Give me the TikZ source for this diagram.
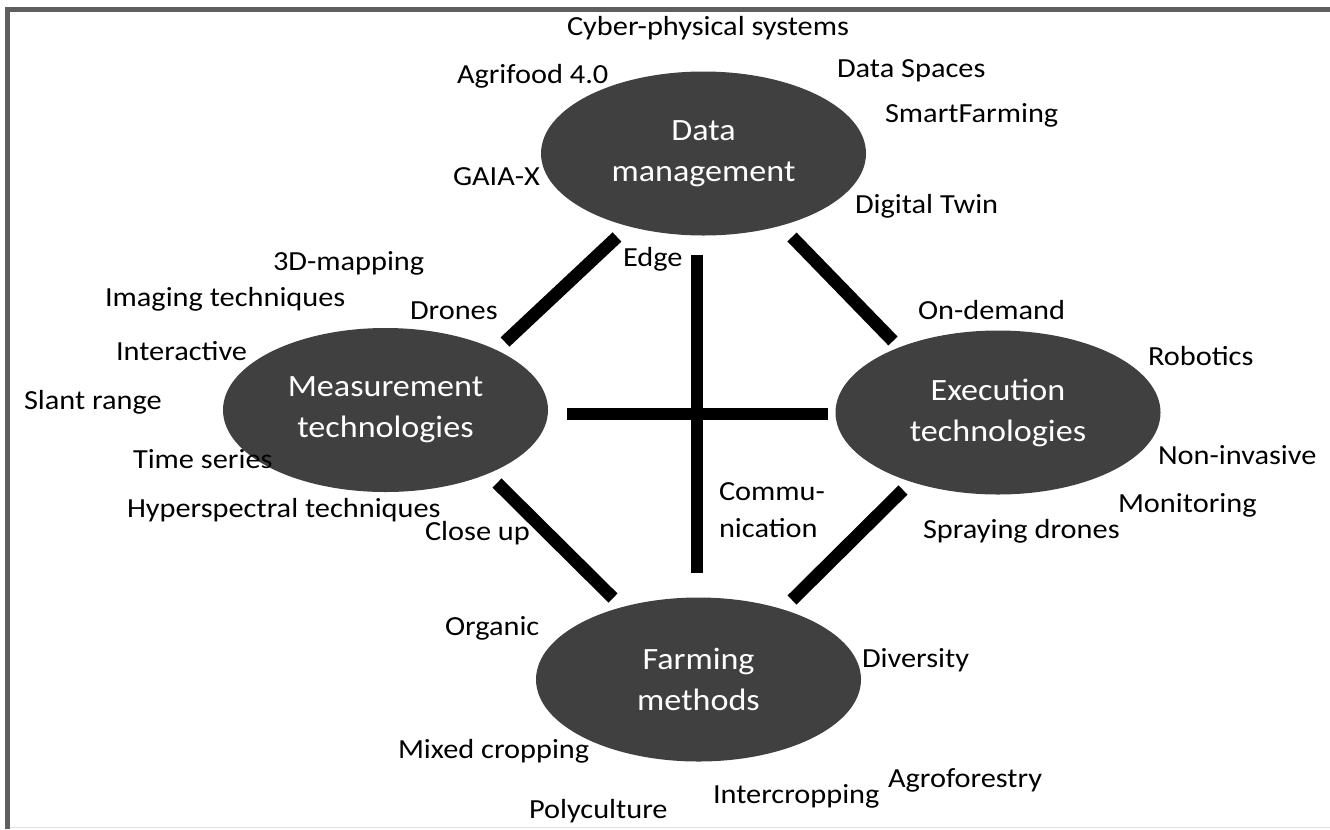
\documentclass[tikz,border=0pt]{standalone}
\usepackage{fontspec}
\setmainfont{Carlito}[FakeStretch=1.1]
\usetikzlibrary{shapes.geometric,calc}

\definecolor{blobfill}{HTML}{404040}
\definecolor{framegray}{HTML}{5E5E5E}

\tikzset{
  topic/.style={ellipse, fill=blobfill, draw=none, inner sep=0pt, outer sep=0pt,
    minimum width=243.75pt, minimum height=123pt, text=white, align=center,
    font=\fontsize{23.25pt}{30.75pt}\selectfont},
  link/.style={line width=9.6pt, line cap=butt, black},
  kw/.style={anchor=base west, inner sep=0pt, outer sep=0pt, align=left,
    font=\fontsize{20.7pt}{27.75pt}\selectfont},
}

\begin{document}
\begin{tikzpicture}[x=0.75pt, y=-0.75pt]
\useasboundingbox (0,0) rectangle (1330,829);

% frame
\draw[framegray, line width=3.75pt] (7.5,829) -- (7.5,9.5) -- (1330,9.5);
\draw[black!12, line width=1pt] (10,827.5) -- (1330,827.5);

% the four topics
\node[topic] (data) at (703.5,153.5) {Data\\management};
\node[topic] (meas) at (385.5,410) {Measurement\\technologies};
\node[topic] (exec) at (998,412.5) {Execution\\technologies};
\node[topic] (farm) at (698.5,679.5) {Farming\\methods};

% connectors between topics
\draw[link] ($(meas.center)+(119.5,-68)$) -- ($(data.center)+(-86.5,83.5)$);
\draw[link] ($(data.center)+(88.5,83.5)$) -- ($(exec.center)+(-105,-71.5)$);
\draw[link] ($(meas.center)+(111.5,73)$) -- ($(farm.center)+(-85.5,-81.5)$);
\draw[link] ($(exec.center)+(-95,77.5)$) -- ($(farm.center)+(93.5,-79.5)$);
\draw[link] ($(data.center)+(-6.5,101.5)$) -- ($(farm.center)+(-1.5,-106.5)$);
\draw[link] ($(meas.center)+(181.5,4)$) -- ($(exec.center)+(-170,1.5)$);

% keywords around data management
\node[kw] (cps)    at (567,35)   {Cyber-physical systems};
\node[kw] (agri)   at (457,83)   {Agrifood 4.0};
\node[kw] (spaces) at (837,77)   {Data Spaces};
\node[kw] (smart)  at (885,122)  {SmartFarming};
\node[kw] (gaia)   at (453,185)  {GAIA-X};
\node[kw] (twin)   at (855,213)  {Digital Twin};
\node[kw] (edge)   at (623,266)  {Edge};

% keywords around measurement technologies
\node[kw] (map3d)  at (273,270)  {3D-mapping};
\node[kw] (imag)   at (105,306)  {Imaging techniques};
\node[kw] (drones) at (410,319)  {Drones};
\node[kw] (inter)  at (116,360)  {Interactive};
\node[kw] (slant)  at (24,409)   {Slant range};
\node[kw] (tser)   at (133,468)  {Time series};
\node[kw] (hyper)  at (127,517)  {Hyperspectral techniques};
\node[kw] (close)  at (425,540)  {Close up};

% keywords around execution technologies
\node[kw] (ondem)  at (918,319)  {On-demand};
\node[kw] (robot)  at (1148,365) {Robotics};
\node[kw] (noninv) at (1158,464) {Non-invasive};
\node[kw] (monit)  at (1118,512) {Monitoring};
\node[kw] (spray)  at (923,538)  {Spraying drones};

% keyword at the crossing (base anchor sits on the last line)
\node[kw] (comm)   at (719,537)  {Commu-\\nication};

% keywords around farming methods
\node[kw] (organ)  at (445,635)  {Organic};
\node[kw] (divers) at (862,667)  {Diversity};
\node[kw] (mixed)  at (398,758)  {Mixed cropping};
\node[kw] (agrof)  at (888,787)  {Agroforestry};
\node[kw] (intcr)  at (713,803)  {Intercropping};
\node[kw] (poly)   at (529,818)  {Polyculture};
\end{tikzpicture}
\end{document}
